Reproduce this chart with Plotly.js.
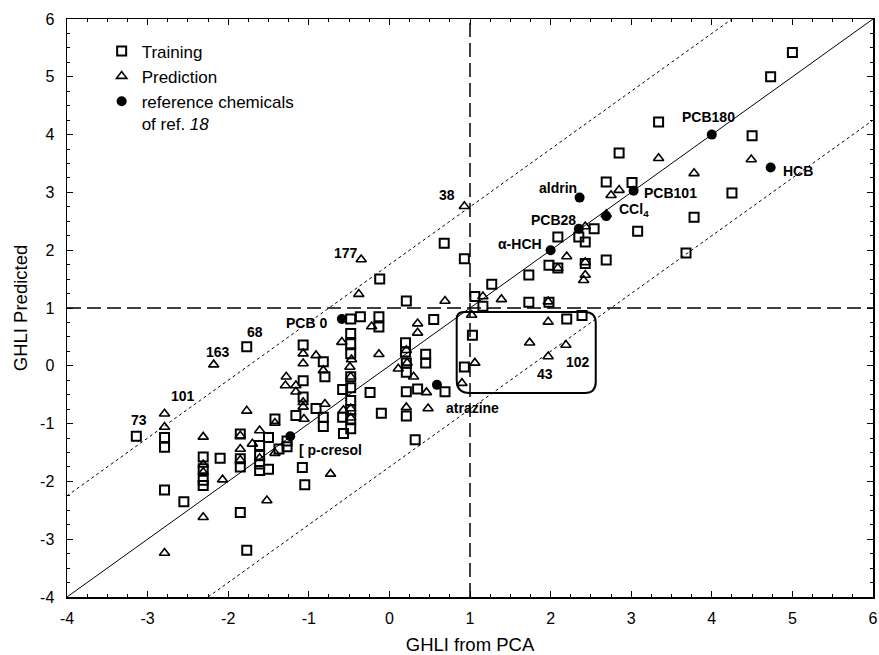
<!DOCTYPE html>
<html><head><meta charset="utf-8">
<script src="https://cdn.plot.ly/plotly-3.0.1.min.js"></script>
<style>html,body{margin:0;padding:0;background:#fff}#chart{width:879px;height:655px}</style>
</head><body><div id="chart"></div>
<script>
// ---- data ----
const trainX = [-1.77,-3.14,5.0,4.73,3.34,4.50,2.85,2.69,3.01,4.25,3.78,3.08,3.68,2.69,2.54,2.43,2.35,2.09,2.43,1.98,2.09,1.73,1.27,1.06,1.16,1.73,1.98,2.20,2.39,0.93,0.68,-0.12,0.21,0.55,-0.48,-0.36,-0.13,-0.13,-0.48,-0.48,-0.48,-0.48,-0.48,-0.48,-0.48,-0.48,-0.48,-0.58,-0.58,-0.57,-1.07,-0.82,-0.80,-1.07,-1.07,-1.16,-0.91,-0.82,-0.82,-1.08,-1.05,-0.24,-0.10,0.20,0.20,0.21,0.21,0.21,0.21,0.35,0.32,0.45,0.45,0.69,1.03,0.93,-2.79,-2.79,-2.79,-2.55,-2.31,-2.31,-2.31,-2.31,-2.10,-1.85,-1.85,-1.85,-1.85,-1.77,-1.61,-1.61,-1.61,-1.61,-1.50,-1.50,-1.42,-1.37,-1.27,-1.27];
const trainY = [0.33,-1.22,5.42,5.0,4.22,3.98,3.68,3.18,3.17,2.99,2.57,2.33,1.95,1.83,2.37,2.14,2.23,2.23,1.77,1.74,1.69,1.57,1.41,1.20,1.03,1.10,1.10,0.81,0.87,1.85,2.12,1.50,1.12,0.80,0.81,0.85,0.85,0.67,0.56,0.38,0.21,-0.19,-0.38,-0.60,-0.76,-0.92,-1.09,-0.41,-0.89,-1.17,0.36,0.07,-0.19,-0.26,-0.54,-0.86,-0.74,-0.89,-1.05,-1.76,-2.06,-0.46,-0.82,0.40,0.24,0.05,-0.11,-0.45,-0.87,-0.40,-1.28,0.20,0.05,-0.45,0.53,-0.02,-1.24,-1.41,-2.15,-2.35,-1.58,-1.78,-1.98,-2.07,-1.60,-1.18,-1.61,-1.75,-2.54,-3.19,-1.38,-1.55,-1.70,-1.81,-1.24,-1.79,-0.92,-1.44,-1.30,-1.40];
const predX = [0.93,-0.35,-2.18,-2.79,1.97,2.19,-0.38,0.69,1.39,1.16,1.97,2.20,2.43,2.43,2.41,2.09,2.75,2.85,3.34,3.78,4.49,2.43,2.69,1.02,1.97,1.74,1.06,0.90,-2.79,-2.79,-2.31,-2.31,-2.31,-2.31,-2.07,-1.85,-1.77,-1.85,-1.85,-1.70,-1.61,-1.61,-1.52,-1.42,-1.42,-1.29,-1.16,-1.16,-1.28,-1.07,-1.07,-0.91,-0.82,-1.07,-1.07,-1.06,-0.80,-0.73,-0.22,-0.59,-0.47,-0.49,-0.48,-0.57,-0.48,-0.48,-0.13,0.21,0.11,0.30,0.22,0.21,0.46,0.48,0.35,0.35];
const predY = [2.76,1.84,0.02,-0.83,0.16,0.36,1.24,1.12,1.15,1.20,1.11,1.89,2.41,1.57,1.48,1.69,2.95,3.04,3.59,3.33,3.57,1.79,2.62,0.88,0.76,0.40,0.05,-0.30,-1.06,-3.24,-1.23,-1.84,-1.71,-2.62,-1.97,-1.21,-0.78,-1.44,-1.63,-1.35,-1.12,-1.60,-2.33,-0.99,-1.51,-0.34,-0.34,-0.45,-0.19,0.21,0.04,0.18,-0.08,-0.63,-0.71,-0.92,-0.66,-1.87,0.68,0.41,0.11,-0.02,-0.19,-0.77,-0.74,-0.90,0.20,0.27,-0.05,-0.19,0.05,-0.72,-0.46,-0.74,0.73,0.57];
const refNames = ['PCB180','HCB','PCB101','CCl<sub>4</sub>','aldrin','PCB28','α-HCH','PCB 0','atrazine','[ p-cresol'];
const refX = [4.0,4.73,3.03,2.69,2.36,2.35,2.0,-0.59,0.59,-1.23];
const refY = [4.0,3.43,3.03,2.59,2.91,2.37,2.0,0.81,-0.33,-1.22];
const trainLabels = ['68','73'];          // first entries of training arrays
const predLabels = ['38','177','163','101','43','102']; // first entries of prediction arrays
const tickValues = [-4,-3,-2,-1,0,1,2,3,4,5,6];
const tickLabels = ['-4','-3','-2','-1','0','1','2','3','4','5','6'];
const axisRange = [-4, 6];
const bandHalfWidth = 1.75;
const threshold = 1;
const boxX = [0.835, 2.56];
const boxY = [-0.47, 0.93];

// ---- label offsets (pixels) ----
const refShift = [[-3,18],[27,-3],[37,-2],[28,6],[-22,10],[-25,9],[-31,6],[-35,-4],[36,-23],[40,-14]];
const trainShift = [[8,15],[3,16]];
const predShift = [[-17,11],[-15,6],[4,13],[18,18],[-3,-17],[12,-17]];

const W = 879, H = 655, M = {l:67, r:6, t:19, b:58};
const pxX = (W - M.l - M.r) / (axisRange[1] - axisRange[0]);
const pxY = (H - M.t - M.b) / (axisRange[1] - axisRange[0]);

const font = 'Arial, "Liberation Sans", sans-serif';

const traces = [
  {x: trainX, y: trainY, type:'scatter', mode:'markers', name:'Training',
   marker:{symbol:'square-open', size:9, color:'#000', line:{width:2, color:'#000'}}},
  {x: predX, y: predY, type:'scatter', mode:'markers', name:'Prediction',
   marker:{symbol:'triangle-up-open', size:9, color:'#000', line:{width:1.6, color:'#000'}}},
  {x: refX, y: refY, type:'scatter', mode:'markers', name:'reference chemicals<br>of ref. <i>18</i>',
   marker:{symbol:'circle', size:10, color:'#000'}}
];

const annotations = [];
const addLabel = (text, x, y, s) => annotations.push({
  text, x, y, xref:'x', yref:'y', showarrow:false, xshift:s[0], yshift:s[1],
  xanchor:'center', yanchor:'middle', font:{family:font, size:14, color:'#000', weight:'bold'}
});
refNames.forEach((t,i) => addLabel(t, refX[i], refY[i], refShift[i]));
trainLabels.forEach((t,i) => addLabel(t, trainX[i], trainY[i], trainShift[i]));
predLabels.forEach((t,i) => addLabel(t, predX[i], predY[i], predShift[i]));

// rounded box
const r = {tl:7, tr:11, br:11, bl:13};
const rx = k => r[k] / pxX, ry = k => r[k] / pxY;
const [x0,x1] = boxX, [y0,y1] = boxY;
const boxPath = `M ${x0+rx('tl')},${y1} L ${x1-rx('tr')},${y1} Q ${x1},${y1} ${x1},${y1-ry('tr')} ` +
  `L ${x1},${y0+ry('br')} Q ${x1},${y0} ${x1-rx('br')},${y0} L ${x0+rx('bl')},${y0} ` +
  `Q ${x0},${y0} ${x0},${y0+ry('bl')} L ${x0},${y1-ry('tl')} Q ${x0},${y1} ${x0+rx('tl')},${y1} Z`;

const [a0, a1] = axisRange;
const shapes = [
  {type:'line', xref:'x', yref:'y', x0:a0, y0:a0, x1:a1, y1:a1, line:{color:'#000', width:1}},
  {type:'line', xref:'x', yref:'y', x0:a0, y0:a0+bandHalfWidth, x1:a1-bandHalfWidth, y1:a1, line:{color:'#000', width:1, dash:'dot'}},
  {type:'line', xref:'x', yref:'y', x0:a0+bandHalfWidth, y0:a0, x1:a1, y1:a1-bandHalfWidth, line:{color:'#000', width:1, dash:'dot'}},
  {type:'line', xref:'x', yref:'y', x0:threshold, y0:a0, x1:threshold, y1:a1, line:{color:'#000', width:1.5, dash:'14px,6px'}},
  {type:'line', xref:'x', yref:'y', x0:a0, y0:threshold, x1:a1, y1:threshold, line:{color:'#000', width:1.5, dash:'14px,6px'}},
  {type:'path', xref:'x', yref:'y', path:boxPath, line:{color:'#000', width:2}}
];

const axisBase = {
  range: axisRange, tickmode:'array', tickvals:tickValues, ticktext:tickLabels,
  ticks:'inside', ticklen:6, tickwidth:1, tickcolor:'#000',
  showline:true, linecolor:'#000', linewidth:1.5, mirror:'ticks', showgrid:false, zeroline:false,
  minor:{dtick:0.25, tick0:0, ticks:'inside', ticklen:3, tickwidth:1, tickcolor:'#000', showgrid:false},
  tickfont:{family:font, size:16, color:'#000'}, automargin:false
};

const layout = {
  width:W, height:H, margin:M, paper_bgcolor:'#fff', plot_bgcolor:'#fff',
  font:{family:font, color:'#000'},
  showlegend:true,
  legend:{x:0.043, y:0.975, xanchor:'left', yanchor:'top', valign:'top', bgcolor:'rgba(0,0,0,0)',
          font:{family:font, size:17, color:'#000'}, tracegroupgap:0, itemwidth:30},
  xaxis: Object.assign({}, axisBase, {ticklabelstandoff:6, title:{text:'GHLI from PCA', font:{family:font, size:18.5, color:'#000'}, standoff:22}}),
  yaxis: Object.assign({}, axisBase, {ticklabelstandoff:8, title:{text:'GHLI Predicted', font:{family:font, size:18.5, color:'#000'}, standoff:7}}),
  shapes, annotations
};

Plotly.newPlot('chart', traces, layout, {displayModeBar:false, staticPlot:true});
</script></body></html>
